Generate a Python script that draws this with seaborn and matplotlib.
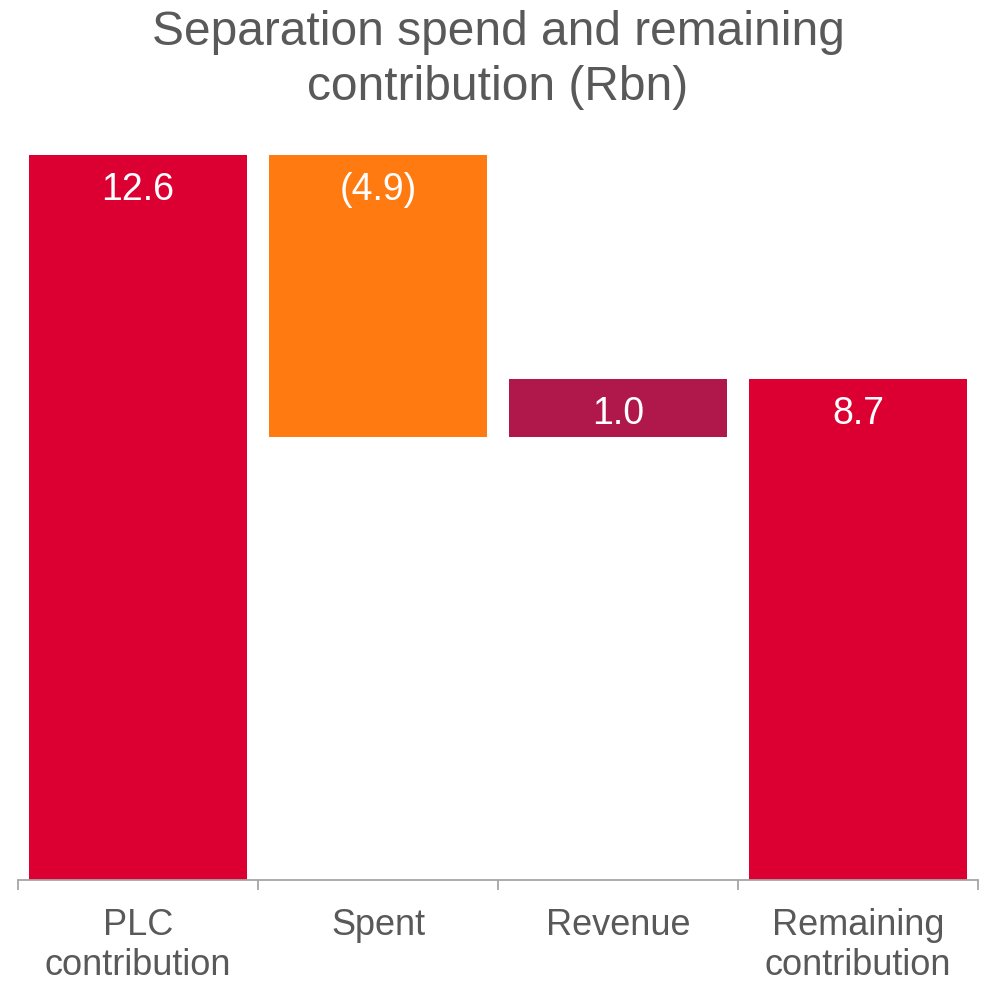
import matplotlib
matplotlib.use("Agg")
import matplotlib.pyplot as plt
import seaborn as sns
import numpy as np

categories = ["PLC\ncontribution", "Spent", "Revenue", "Remaining\ncontribution"]
values = [12.6, -4.9, 1.0, 8.7]
labels = ["12.6", "(4.9)", "1.0", "8.7"]
kinds = ["total", "delta", "delta", "total"]
colors = ["#DC0032", "#FF7A10", "#B0174A", "#DC0032"]
title = "Separation spend and remaining\ncontribution (Rbn)"

# waterfall geometry derived from values
bottoms, heights = [], []
running = 0.0
for v, k in zip(values, kinds):
    if k == "total":
        bottoms.append(0.0)
        heights.append(v)
        running = v
    else:
        new = running + v
        bottoms.append(min(running, new))
        heights.append(abs(v))
        running = new

sns.set_theme(style="white")
plt.rcParams["font.family"] = ["Liberation Sans", "DejaVu Sans"]

fig = plt.figure(figsize=(9.83, 9.84), dpi=100)
ax = fig.add_axes([18 / 983, 104 / 984, 960 / 983, (880 - 155) / 984])

sns.barplot(x=categories, y=heights, width=0.908, color=colors[0], ax=ax,
            saturation=1, linewidth=0)
for p, b, c in zip(ax.patches, bottoms, colors):
    p.set_y(b)
    p.set_facecolor(c)
    p.set_edgecolor("none")
    p.set_clip_on(False)

for i, (b, h, lab) in enumerate(zip(bottoms, heights, labels)):
    ax.text(i, b + h - 0.6, lab, ha="center", va="center", color="white",
            fontsize=27)

ax.set_xlim(-0.5, 3.5)
ax.set_ylim(0, 12.6)
ax.set_yticks([])
ax.set_ylabel("")
for s in ["top", "right", "left"]:
    ax.spines[s].set_visible(False)
ax.spines["bottom"].set_color("#A6A6A6")
ax.spines["bottom"].set_linewidth(1.3)

ax.set_xticks(np.arange(len(categories)))
ax.set_xticklabels(categories, fontsize=26, color="#595959", linespacing=1.2)
ax.tick_params(axis="x", which="major", length=0, pad=20)
ax.set_xticks(np.arange(len(categories) + 1) - 0.5, minor=True)
ax.tick_params(axis="x", which="minor", length=7.5, width=1.3, color="#A6A6A6",
               direction="out", bottom=True)

fig.text(498 / 983, 1 - 60 / 984, title, ha="center", va="center",
         fontsize=34.5, color="#595959", linespacing=1.3)

fig.savefig("out.png", dpi=100, facecolor="white")
